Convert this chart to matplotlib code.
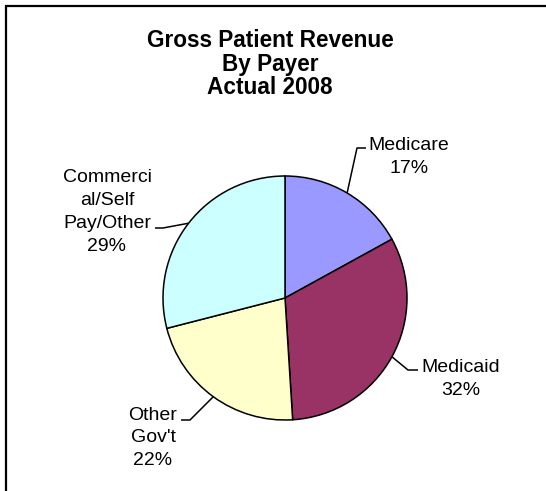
import matplotlib.pyplot as plt
import numpy as np

plt.rcParams['font.family'] = ['Liberation Sans', 'DejaVu Sans']

# data
payers = ['Medicare', 'Medicaid', "Other\nGov't", 'Commerci\nal/Self\nPay/Other']
shares = [17, 32, 22, 29]
colors = ['#9999FF', '#993366', '#FFFFCC', '#CCFFFF']
title = 'Gross Patient Revenue\nBy Payer\nActual 2008'

W, H = 546, 491
fig = plt.figure(figsize=(W / 100, H / 100), dpi=100)
ax = fig.add_axes([0, 0, 1, 1])
ax.set_xlim(0, W)
ax.set_ylim(0, H)
ax.set_aspect('equal')
ax.axis('off')

# pixel helpers (y measured from the top)
def py(y):
    return H - y

cx, cy, r = 285, py(298), 122

wedges, _ = ax.pie(shares, colors=colors, startangle=90, counterclock=False,
                   center=(cx, cy), radius=r, frame=True,
                   wedgeprops=dict(edgecolor='black', linewidth=1.1))
ax.set_xlim(0, W)
ax.set_ylim(0, H)
ax.axis('off')

# label layout: elbow point, end of horizontal tick, text centre (pixels)
layout = [
    dict(elbow=(357, 148), end=(366, 148), text=(409, 157)),
    dict(elbow=(408, 370), end=(418, 370), text=(461, 379)),
    dict(elbow=(190, 420), end=(181, 420), text=(153, 438)),
    dict(elbow=(163, 228), end=(155, 228), text=(107, 212)),
]

for w, name, share, lay in zip(wedges, payers, shares, layout):
    mid = np.deg2rad((w.theta1 + w.theta2) / 2)
    x0 = cx + r * np.cos(mid)
    y0 = cy + r * np.sin(mid)
    ex, ey = lay['elbow']
    tx, ty = lay['end']
    ax.plot([x0, ex, tx], [y0, py(ey), py(ty)], color='black', lw=1.1,
            solid_capstyle='butt')
    lx, ly = lay['text']
    ax.text(lx, py(ly), f'{name}\n{share}%', ha='center', va='center',
            fontsize=14, linespacing=1.45, color='black')

ax.text(270, py(64), title, ha='center', va='center', fontsize=16.3,
        fontweight='bold', linespacing=1.05)

# chart area border (open on right and bottom, as cropped)
ax.plot([6, 6, W + 5], [-5, py(6), py(6)], color='black', lw=1.6,
        solid_joinstyle='miter')

fig.savefig('out.png', dpi=100)
